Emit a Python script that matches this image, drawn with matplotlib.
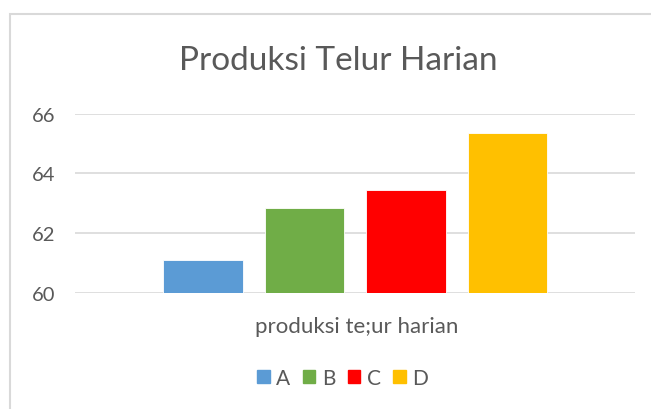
import matplotlib
matplotlib.use("Agg")
import matplotlib.pyplot as plt
import matplotlib.patches as mpatches
import numpy as np

# ── Data ──────────────────────────────────────────────────────────────────────
series = ["A", "B", "C", "D"]
values = [61.11, 62.83, 63.43, 65.36]
colors = ["#5B9BD5", "#70AD47", "#FF0000", "#FFC000"]
yticks = [60, 62, 64, 66]
title = "Produksi Telur Harian"
category = "produksi te;ur harian"

TEXT = "#595959"
GRID = "#D9D9D9"
W, H = 651, 410

plt.rcParams["font.family"] = ["Lato", "DejaVu Sans"]

fig = plt.figure(figsize=(W / 100, H / 100), dpi=100)
fig.patch.set_facecolor("white")

# chart-area border (cropped on the right and bottom)
fig.patches.append(mpatches.Rectangle((10 / W, -0.1), 1.2, 1 - 15 / H + 0.1,
                                      transform=fig.transFigure, fill=False,
                                      edgecolor=GRID, linewidth=1.5))

ax = fig.add_axes([75 / W, 1 - 294 / H, 560 / W, (294 - 114.5) / H])

x = np.arange(len(series))
ax.bar(x, [v - 60 for v in values], bottom=60, width=0.783,
       color=colors, edgecolor="white", linewidth=0.6, zorder=3)

ax.set_xlim(-1.261, 4.256)
ax.set_ylim(60, 66)
ax.set_yticks(yticks)
ax.set_xticks([])
ax.grid(axis="y", color=GRID, linewidth=1.2, zorder=0)
ax.tick_params(axis="y", length=0, pad=14, labelsize=14.5, labelcolor=TEXT)
for s in ax.spines.values():
    s.set_visible(False)

fig.text(338 / W, 1 - 70 / H, title, ha="center", va="baseline",
         fontsize=24, color=TEXT)
fig.text(356.5 / W, 1 - 333 / H, category, ha="center", va="baseline",
         fontsize=16, color=TEXT)

handles = [mpatches.Patch(color=c, label=s) for c, s in zip(colors, series)]
fig.legend(handles=handles, ncol=4, loc="center", frameon=False,
           bbox_to_anchor=(342.5 / W, 1 - 379 / H), fontsize=15,
           labelcolor=TEXT, handlelength=0.62, handleheight=0.62,
           handletextpad=0.3, columnspacing=0.6, borderpad=0, borderaxespad=0)

fig.savefig("out.png", dpi=100, facecolor="white")
